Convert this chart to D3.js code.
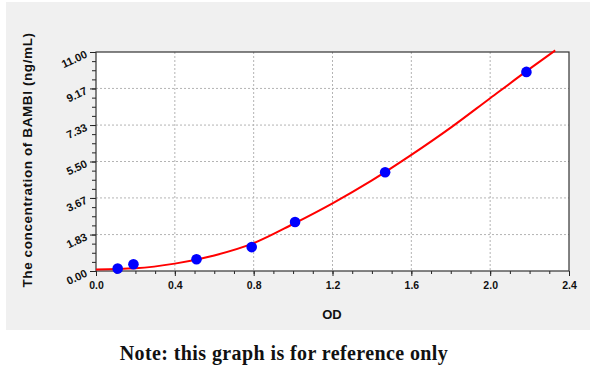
<!DOCTYPE html>
<html>
<head>
<meta charset="utf-8">
<script src="https://cdn.jsdelivr.net/npm/d3@7"></script>
<style>
html,body{margin:0;padding:0;background:#fff;}
svg{display:block;}
</style>
</head>
<body>
<svg id="chart" width="600" height="375"></svg>
<script>
// ---- data ----
const pointOD   = [0.11, 0.19, 0.51, 0.79, 1.01, 1.467, 2.184];
const pointConc = [0.12, 0.34, 0.59, 1.20, 2.46, 4.96, 10.00];
const curveOD   = [0, 0.2, 0.4, 0.6, 0.8, 1.0, 1.2, 1.4, 1.6, 1.8, 2.0, 2.2, 2.33];
const curveConc = [0.08, 0.14, 0.37, 0.78, 1.40, 2.36, 3.40, 4.55, 5.83, 7.20, 8.68, 10.15, 11.08];
const xTicks = [0.0, 0.4, 0.8, 1.2, 1.6, 2.0, 2.4];
const xTickLabels = ["0.0", "0.4", "0.8", "1.2", "1.6", "2.0", "2.4"];
const yTicks = [0, 1.83, 3.67, 5.50, 7.33, 9.17, 11.00];
const yTickLabels = ["0.00", "1.83", "3.67", "5.50", "7.33", "9.17", "11.00"];
const xTitle = "OD";
const yTitle = "The concentration of BAMBI (ng/mL)";
const note = "Note: this graph is for reference only";

// ---- layout ----
const svg = d3.select("#chart");
const L = 96, R = 569, T = 52, B = 271;
const x = d3.scaleLinear().domain([0, 2.4]).range([L, R]);
const y = d3.scaleLinear().domain([0, 11]).range([B, T]);

svg.append("rect").attr("x", 6).attr("y", 2).attr("width", 584).attr("height", 328).attr("fill", "#f0f0f0");
svg.append("rect").attr("x", L).attr("y", T).attr("width", R - L).attr("height", B - T).attr("fill", "#fff");

// grid
const grid = svg.append("g").attr("stroke", "#b4b4b4").attr("stroke-width", 1).attr("stroke-dasharray", "2,2");
xTicks.slice(1, -1).forEach(v => grid.append("line").attr("x1", x(v)).attr("x2", x(v)).attr("y1", T).attr("y2", B));
yTicks.slice(1, -1).forEach(v => grid.append("line").attr("x1", L).attr("x2", R).attr("y1", y(v)).attr("y2", y(v)));

// minor ticks
const xMinor = d3.range(0, 24).map(i => i / 10);
const yMinor = d3.range(0, 24).map(i => i * 11 / 24);

const xAxis = svg.append("g").attr("transform", `translate(0,${B})`)
  .call(d3.axisBottom(x).tickValues(xMinor).tickSize(3).tickFormat(""));
const xAxisMaj = svg.append("g").attr("transform", `translate(0,${B})`)
  .call(d3.axisBottom(x).tickValues(xTicks).tickSize(5).tickPadding(6).tickFormat((d, i) => xTickLabels[i]));
const yAxis = svg.append("g").attr("transform", `translate(${L},0)`)
  .call(d3.axisLeft(y).tickValues(yMinor).tickSize(4).tickFormat(""));
const yAxisMaj = svg.append("g").attr("transform", `translate(${L},0)`)
  .call(d3.axisLeft(y).tickValues(yTicks).tickSize(6).tickFormat((d, i) => yTickLabels[i]));

[xAxis, xAxisMaj, yAxis, yAxisMaj].forEach(g => {
  g.select(".domain").remove();
  g.selectAll("line").attr("stroke", "#222");
});
xAxisMaj.selectAll("text").attr("font-family", "Liberation Sans, Arial, sans-serif")
  .attr("font-size", 10.5).attr("font-weight", "bold").attr("fill", "#111");
yAxisMaj.selectAll("text").attr("font-family", "Liberation Sans, Arial, sans-serif")
  .attr("font-size", 11).attr("font-weight", "bold").attr("fill", "#111")
  .attr("x", -10).attr("dy", "0.45em")
  .attr("transform", "rotate(-25,-10,0)");

// frame
svg.append("rect").attr("x", L).attr("y", T).attr("width", R - L).attr("height", B - T)
  .attr("fill", "none").attr("stroke", "#333").attr("stroke-width", 1.2);

// curve
const line = d3.line().x(d => x(d[0])).y(d => y(d[1])).curve(d3.curveMonotoneX);
svg.append("path").datum(curveOD.map((v, i) => [v, curveConc[i]]))
  .attr("d", line).attr("fill", "none").attr("stroke", "#ff0000").attr("stroke-width", 2);

// points
svg.append("g").selectAll("circle").data(pointOD.map((v, i) => [v, pointConc[i]])).join("circle")
  .attr("cx", d => x(d[0])).attr("cy", d => y(d[1])).attr("r", 5.3).attr("fill", "#0000ff");

// titles
svg.append("text").attr("x", 332).attr("y", 319).attr("text-anchor", "middle")
  .attr("font-family", "Liberation Sans, Arial, sans-serif").attr("font-size", 13).attr("font-weight", "bold")
  .attr("fill", "#111").text(xTitle);
svg.append("text").attr("transform", "translate(32,160) rotate(-90)").attr("text-anchor", "middle")
  .attr("font-family", "Liberation Sans, Arial, sans-serif").attr("font-size", 13.5).attr("font-weight", "bold")
  .attr("letter-spacing", 0.6).attr("fill", "#111").text(yTitle);

svg.append("text").attr("x", 284).attr("y", 360).attr("text-anchor", "middle")
  .attr("font-family", "Liberation Serif, serif").attr("font-size", 20).attr("font-weight", "bold")
  .attr("letter-spacing", 0.4).attr("fill", "#111").text(note);
</script>
</body>
</html>
